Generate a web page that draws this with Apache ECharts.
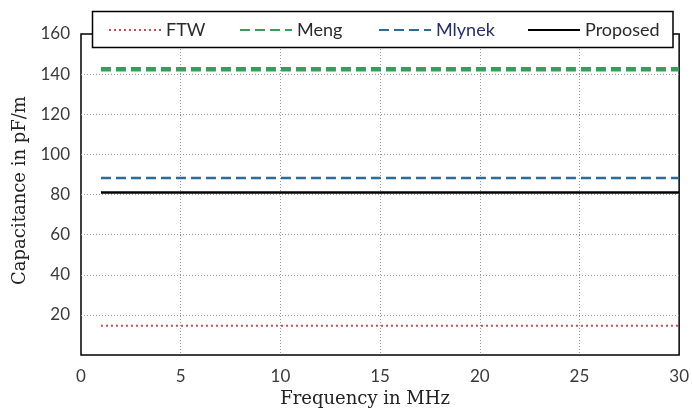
<!DOCTYPE html>
<html>
<head>
<meta charset="utf-8">
<script src="https://cdn.jsdelivr.net/npm/echarts@6/dist/echarts.min.js"></script>
<style>
  html, body { margin: 0; padding: 0; background: #fff; }
  #chart { width: 692px; height: 414px; }
</style>
</head>
<body>
<div id="chart"></div>
<script>
// Frequency sweep (MHz) and per-unit-length capacitance from each model (pF/m)
const frequency = [1, 5, 10, 15, 20, 25, 30];
const ftw      = [14.6, 14.6, 14.6, 14.6, 14.6, 14.6, 14.6];
const meng     = [142.4, 142.4, 142.4, 142.4, 142.4, 142.4, 142.4];
const mlynek   = [88.2, 88.2, 88.2, 88.2, 88.2, 88.2, 88.2];
const proposed = [81.0, 81.0, 81.0, 81.0, 81.0, 81.0, 81.0];
const seriesNames = ['FTW', 'Meng', 'Mlynek', 'Proposed'];
const xTicks = [0, 5, 10, 15, 20, 25, 30];
const yTicks = [20, 40, 60, 80, 100, 120, 140, 160];

const pairs = (ys) => frequency.map((f, i) => [f, ys[i]]);

const styles = {
  FTW:      { color: '#c0504d', width: 2,   type: [2, 3],  text: '#2a2a2a' },
  Meng:     { color: '#3a9c5a', width: 4.5, type: [10, 5], text: '#2a2a2a' },
  Mlynek:   { color: '#2e6c96', width: 2.5, type: [10, 5], text: '#242f66' },
  Proposed: { color: '#000000', width: 2.5, type: 'solid', text: '#2a2a2a' }
};
const values = { FTW: ftw, Meng: meng, Mlynek: mlynek, Proposed: proposed };

// left edge of each legend entry (sample line followed by its label)
const legendX = [103, 234, 373, 522];

const gridLine = { show: true, showMinLine: false, showMaxLine: false,
  lineStyle: { color: '#9a9a9a', type: [1, 2], width: 1 } };

const chart = echarts.init(document.getElementById('chart'), null, { renderer: 'canvas' });
chart.setOption({
  animation: false,
  backgroundColor: '#ffffff',
  grid: {
    left: 81, right: 8, top: 34, bottom: 59,
    show: true, borderColor: '#000', borderWidth: 1.5, backgroundColor: 'transparent'
  },
  xAxis: {
    type: 'value', min: 0, max: 30, interval: 5,
    name: 'Frequency in MHz', nameLocation: 'middle', nameGap: 34,
    nameTextStyle: { fontFamily: 'DejaVu Serif', fontSize: 18, color: '#222', padding: [0, 30, 0, 0] },
    axisLine: { show: false }, axisTick: { show: false },
    axisLabel: {
      margin: 13, fontFamily: 'Lato', fontSize: 17, color: '#3a3a3a',
      customValues: xTicks
    },
    splitLine: gridLine
  },
  yAxis: {
    type: 'value', min: 0, max: 160, interval: 20,
    name: 'Capacitance in pF/m', nameLocation: 'middle', nameGap: 52,
    nameTextStyle: { fontFamily: 'DejaVu Serif', fontSize: 18, color: '#222', padding: [0, 0, 0, 8] },
    axisLine: { show: false }, axisTick: { show: false },
    axisLabel: {
      margin: 11, fontFamily: 'Lato', fontSize: 17, color: '#3a3a3a',
      formatter: (v) => (yTicks.indexOf(v) >= 0 ? String(v) : '')
    },
    splitLine: gridLine
  },
  graphic: [{
    type: 'rect', z: 50,
    shape: { x: 92.5, y: 11.5, width: 580.5, height: 36 },
    style: { fill: '#fff', stroke: '#000', lineWidth: 1.5 }
  }],
  legend: seriesNames.map((n, i) => ({
    data: [n], left: legendX[i], top: 16, z: 60,
    itemWidth: 52, itemHeight: 14, itemGap: 0,
    itemStyle: { opacity: 0 },
    textStyle: { fontFamily: 'Lato', fontSize: 18, color: styles[n].text }
  })),
  series: seriesNames.map((n) => ({
    name: n, type: 'line', data: pairs(values[n]),
    symbol: 'none', showSymbol: false,
    lineStyle: { color: styles[n].color, width: styles[n].width, type: styles[n].type },
    itemStyle: { color: styles[n].color },
    z: 5
  }))
});
</script>
</body>
</html>
